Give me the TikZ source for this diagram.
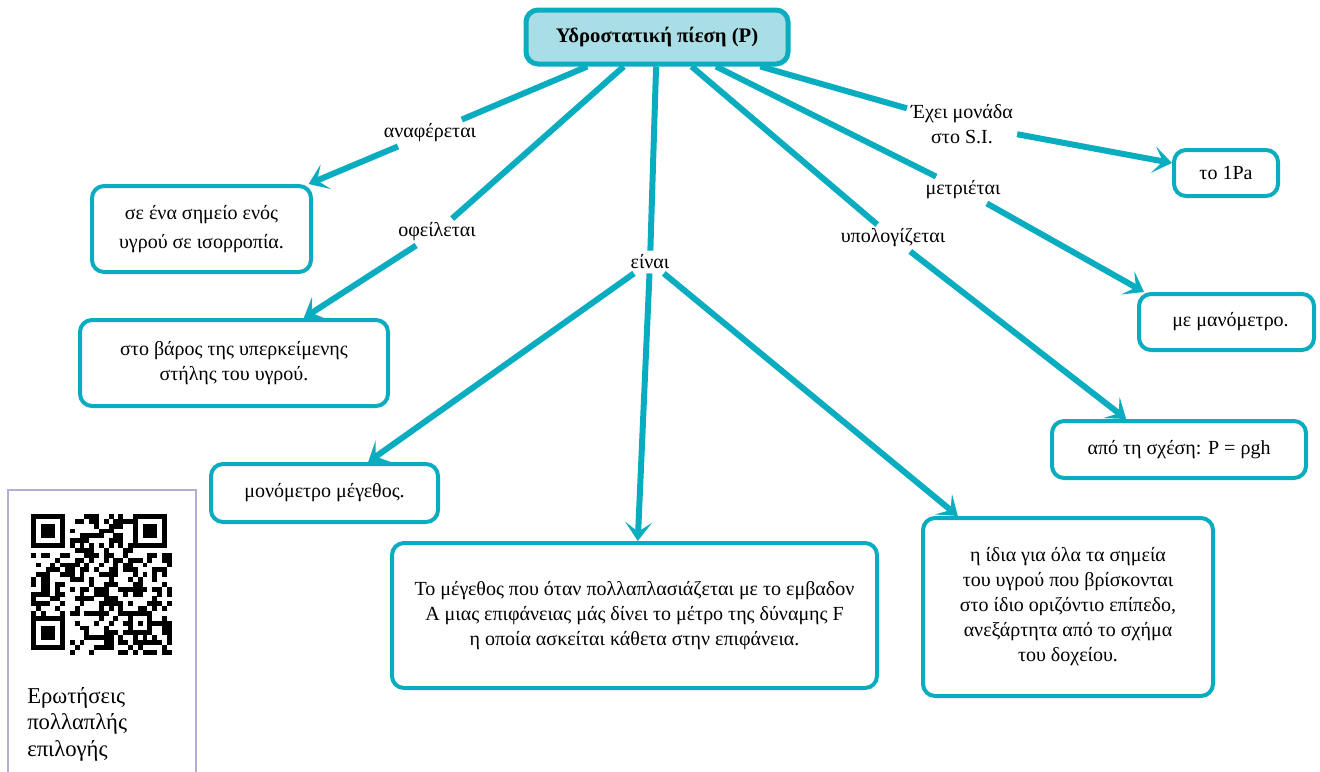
\documentclass[tikz,border=0pt]{standalone}
\usepackage{fontspec}
\setmainfont{Liberation Serif}
\usetikzlibrary{arrows.meta,positioning}
\definecolor{cmteal}{RGB}{10,172,192}
\definecolor{cmlight}{RGB}{170,222,230}
\definecolor{qrlilac}{RGB}{182,172,214}
\newdimen\px \px=0.75pt
\tikzset{
  box/.style    = {draw=cmteal, line width=3pt, fill=white, rounded corners=9pt,
                   align=center, font=\fontsize{15}{18.75}\selectfont},
  topbox/.style = {box, fill=cmlight, line width=3.75pt,
                   font=\fontsize{15.5}{18}\selectfont\bfseries},
  lbl/.style    = {fill=white, inner sep=3pt, align=center,
                   font=\fontsize{15}{18.75}\selectfont},
  link/.style   = {draw=cmteal, line width=4.5pt},
  arr/.style    = {link, -{Stealth[length=14pt,width=20pt,inset=7pt]}},
  qrframe/.style= {draw=qrlilac, line width=1.6pt},
}

\begin{document}
\begin{tikzpicture}[x=\px,y=-\px]
  \useasboundingbox (0,0) rectangle (1320,771);

  % main concept
  \node[topbox, minimum width=262\px, minimum height=54\px] (root) at (657,37)
    {Υδροστατική πίεση (P)};

  % linking words
  \node[lbl] (refers) at (430,133) {αναφέρεται};
  \node[lbl] (owes)   at (437,232) {οφείλεται};
  \node[lbl] (is)     at (650,262) {είναι};
  \node[lbl] (calc)   at (893,238) {υπολογίζεται};
  \node[lbl] (meas)   at (963,190) {μετριέται};
  \node[lbl] (unit)   at (962,124) {Έχει μονάδα\\στο S.I.};

  % concepts
  \node[box, minimum width=219\px, minimum height=86\px,
        font=\fontsize{15}{22}\selectfont] (pnt) at (201.5,229)
    {σε ένα σημείο ενός\\υγρού σε ισορροπία.};
  \node[box, minimum width=308\px, minimum height=86\px] (wt) at (234,363)
    {στο βάρος της υπερκείμενης\\στήλης του υγρού.};
  \node[box, minimum width=227\px, minimum height=58\px] (scal) at (324.5,493)
    {μονόμετρο μέγεθος.};
  \node[box, minimum width=485\px, minimum height=145\px] (defn) at (634.5,615.5)
    {Το μέγεθος που όταν πολλαπλασιάζεται με το εμβαδον\\
     A μιας επιφάνειας μάς δίνει το μέτρο της δύναμης F\\
     η οποία ασκείται κάθετα στην επιφάνεια.};
  \node[box, minimum width=290\px, minimum height=178\px] (same) at (1068,607)
    {η ίδια για όλα τα σημεία\\του υγρού που βρίσκονται\\
     στο ίδιο οριζόντιο επίπεδο,\\ανεξάρτητα από το σχήμα\\του δοχείου.};
  \node[box, minimum width=254\px, minimum height=57\px] (frm) at (1179,449.5)
    {από τη σχέση: P = ρgh};
  \node[box, minimum width=175\px, minimum height=56\px] (mano) at (1226.5,322)
    {\hspace*{8\px}με μανόμετρο.};
  \node[box, minimum width=104\px, minimum height=46\px] (pa) at (1226,173)
    {το 1Pa};

  % connectors
  \draw[link] (root) -- (refers);
  \draw[arr]  (refers) -- (pnt);
  \draw[link] (root) -- (owes);
  \draw[arr]  (owes) -- (wt);
  \draw[link] (root) -- (is);
  \draw[arr]  (is) -- (scal);
  \draw[arr]  (is) -- (defn);
  \draw[arr]  (is) -- (same);
  \draw[link] (root) -- (calc);
  \draw[arr]  (calc) -- (frm.150);
  \draw[link] (root) -- (meas);
  \draw[arr]  (meas) -- (mano.160);
  \draw[link] (root) -- (unit);
  \draw[arr]  (unit) -- (pa);

  % QR panel
  \draw[qrframe] (8,772) -- (8,490) -- (196,490) -- (196,772);
  \begin{scope}[shift={(31,514)}]
    \pgfmathsetseed{4711}
    \foreach \i in {0,...,28}{
      \foreach \j in {0,...,28}{
        \pgfmathtruncatemacro{\qz}{or(or(and(\i<8,\j<8),and(\i>20,\j<8)),and(\i<8,\j>20))}
        \pgfmathtruncatemacro{\qt}{or(\i==6,\j==6)}
        \pgfmathtruncatemacro{\qr}{rnd<0.5}
        \ifnum\qz=0
          \ifnum\qt=1
            \pgfmathtruncatemacro{\qr}{mod(\i+\j+1,2)}
          \fi
          \ifnum\qr=1 \fill (\i*4.85,\j*4.85) rectangle ++(4.9,4.9); \fi
        \fi
      }
    }
    \foreach \cx/\cy in {0/0, 21/0, 0/21}{
      \fill (\cx*4.85,\cy*4.85) rectangle ++(7*4.85,7*4.85);
      \fill[white] (\cx*4.85+4.85,\cy*4.85+4.85) rectangle ++(5*4.85,5*4.85);
      \fill (\cx*4.85+9.7,\cy*4.85+9.7) rectangle ++(3*4.85,3*4.85);
    }
    \fill (20*4.85,20*4.85) rectangle ++(5*4.85,5*4.85);
    \fill[white] (21*4.85,21*4.85) rectangle ++(3*4.85,3*4.85);
    \fill (22*4.85,22*4.85) rectangle ++(4.85,4.85);
  \end{scope}
  \node[anchor=north west, align=left, inner sep=0pt,
        font=\fontsize{17}{20}\selectfont] (quiz) at (27,687)
    {Ερωτήσεις\\πολλαπλής\\επιλογής};
\end{tikzpicture}
\end{document}
